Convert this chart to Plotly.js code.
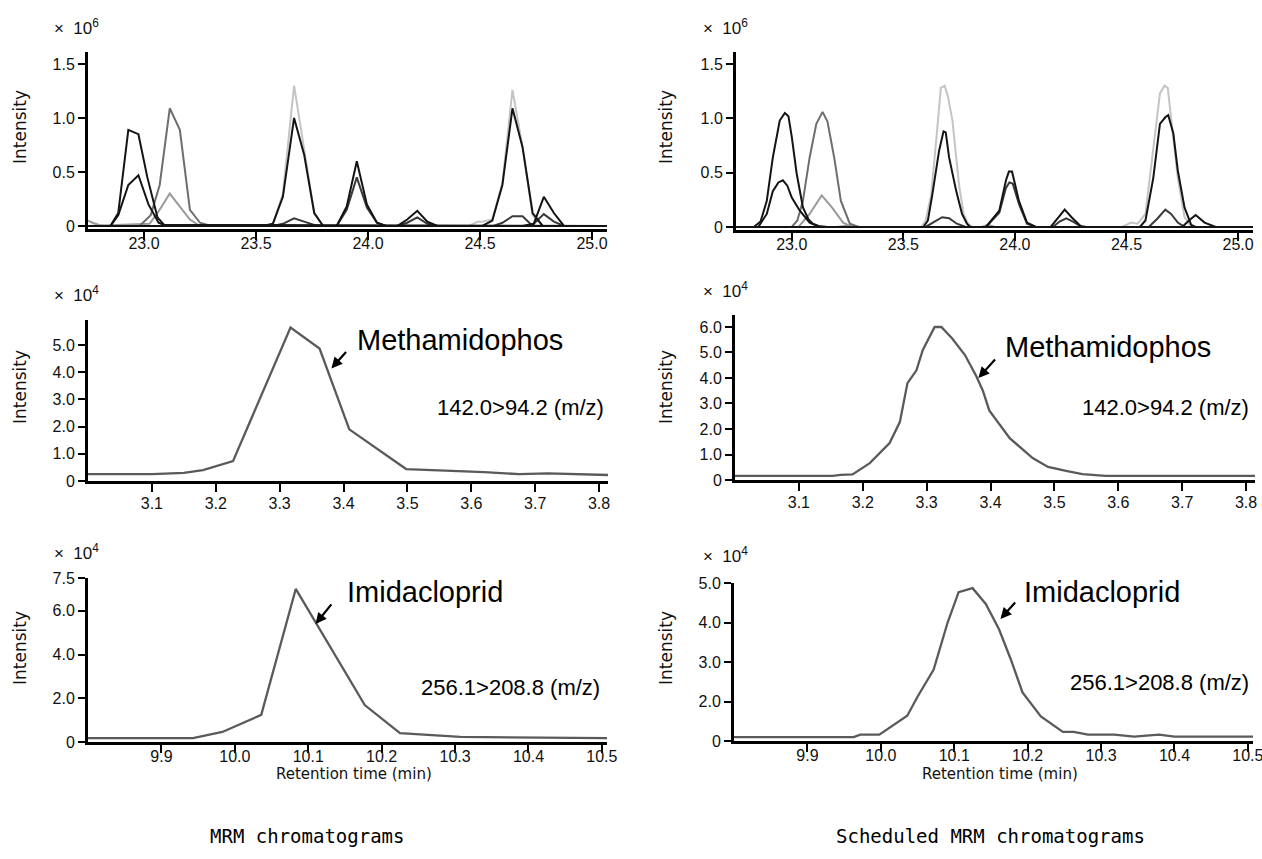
<!DOCTYPE html>
<html><head><meta charset="utf-8">
<script src="https://cdn.plot.ly/plotly-3.0.1.min.js"></script>
<style>html,body{margin:0;padding:0;background:#fff}#chart{width:1262px;height:859px}</style>
</head><body><div id="chart"></div>
<script>
// ---------------- DATA ----------------
// Top-left: MRM chromatograms (x: min, y: x10^6)
const mrmBase_x = [22.75, 22.77, 22.80, 22.83, 25.07];
const mrmBase_y = [0.05, 0.03, 0.01, 0.0, 0.0];
const mrmA1_x = [22.75, 22.85, 22.885, 22.93, 22.975, 23.015, 23.06, 23.09, 25.07];
const mrmA1_y = [0.0, 0.0, 0.12, 0.89, 0.85, 0.45, 0.08, 0.01, 0.0];
const mrmA2_x = [22.75, 22.85, 22.885, 22.93, 22.975, 23.02, 23.065, 23.10, 25.07];
const mrmA2_y = [0.0, 0.0, 0.10, 0.38, 0.47, 0.20, 0.03, 0.0, 0.0];
const mrmB1_x = [22.75, 22.98, 23.03, 23.07, 23.115, 23.16, 23.205, 23.25, 23.30, 25.07];
const mrmB1_y = [0.0, 0.0, 0.10, 0.38, 1.09, 0.89, 0.15, 0.03, 0.0, 0.0];
const mrmB2_x = [22.75, 23.025, 23.07, 23.115, 23.16, 23.205, 23.25, 25.07];
const mrmB2_y = [0.0, 0.02, 0.15, 0.30, 0.18, 0.06, 0.0, 0.0];
const mrmC1_x = [22.75, 23.53, 23.575, 23.62, 23.67, 23.715, 23.76, 23.80, 25.07];
const mrmC1_y = [0.0, 0.0, 0.01, 0.30, 1.30, 0.70, 0.12, 0.0, 0.0];
const mrmC2_x = [22.75, 23.53, 23.575, 23.62, 23.67, 23.715, 23.76, 23.80, 25.07];
const mrmC2_y = [0.0, 0.0, 0.02, 0.27, 1.00, 0.66, 0.12, 0.0, 0.0];
const mrmC3_x = [22.75, 23.575, 23.62, 23.67, 23.715, 23.76, 23.80, 25.07];
const mrmC3_y = [0.0, 0.0, 0.02, 0.07, 0.04, 0.01, 0.0, 0.0];
const mrmD1_x = [22.75, 23.86, 23.905, 23.95, 23.995, 24.04, 24.08, 25.07];
const mrmD1_y = [0.0, 0.0, 0.18, 0.60, 0.20, 0.03, 0.0, 0.0];
const mrmD2_x = [22.75, 23.86, 23.905, 23.95, 23.995, 24.04, 24.08, 25.07];
const mrmD2_y = [0.0, 0.0, 0.15, 0.45, 0.17, 0.03, 0.0, 0.0];
const mrmE1_x = [22.75, 24.13, 24.175, 24.22, 24.265, 24.31, 25.07];
const mrmE1_y = [0.0, 0.0, 0.06, 0.14, 0.04, 0.0, 0.0];
const mrmE2_x = [22.75, 24.13, 24.175, 24.22, 24.265, 24.31, 25.07];
const mrmE2_y = [0.0, 0.0, 0.03, 0.08, 0.02, 0.0, 0.0];
const mrmF1_x = [22.75, 24.45, 24.49, 24.51, 24.555, 24.60, 24.645, 24.69, 24.735, 24.78, 25.07];
const mrmF1_y = [0.0, 0.0, 0.04, 0.04, 0.06, 0.40, 1.26, 0.73, 0.10, 0.0, 0.0];
const mrmF2_x = [22.75, 24.51, 24.555, 24.60, 24.645, 24.69, 24.735, 24.78, 25.07];
const mrmF2_y = [0.0, 0.0, 0.05, 0.38, 1.09, 0.73, 0.12, 0.0, 0.0];
const mrmF3_x = [22.75, 24.56, 24.60, 24.645, 24.69, 24.735, 25.07];
const mrmF3_y = [0.0, 0.0, 0.03, 0.09, 0.09, 0.0, 0.0];
const mrmG1_x = [22.75, 24.69, 24.74, 24.785, 24.83, 24.875, 25.07];
const mrmG1_y = [0.0, 0.0, 0.02, 0.27, 0.12, 0.0, 0.0];
const mrmG2_x = [22.75, 24.70, 24.74, 24.785, 24.83, 24.875, 25.07];
const mrmG2_y = [0.0, 0.0, 0.02, 0.11, 0.04, 0.0, 0.0];

// Top-right: Scheduled MRM chromatograms (x: min, y: x10^6)
const sBase_x = [22.75, 23.20, 23.25, 23.30, 23.85, 23.88, 23.91, 25.07];
const sBase_y = [0.0, 0.0, 0.01, 0.0, 0.0, 0.02, 0.0, 0.0];
const sA1_x = [22.75, 22.83, 22.86, 22.888, 22.915, 22.946, 22.969, 22.985, 23.0, 23.022, 23.05, 23.075, 23.094, 23.12, 23.16, 25.07];
const sA1_y = [0.0, 0.0, 0.05, 0.24, 0.64, 0.98, 1.05, 1.02, 0.83, 0.49, 0.18, 0.07, 0.03, 0.01, 0.0, 0.0];
const sA2_x = [22.75, 22.85, 22.888, 22.915, 22.94, 22.96, 22.98, 23.0, 23.036, 23.08, 23.125, 25.07];
const sA2_y = [0.0, 0.0, 0.12, 0.33, 0.41, 0.43, 0.38, 0.27, 0.15, 0.04, 0.0, 0.0];
const sB1_x = [22.75, 23.0, 23.025, 23.05, 23.08, 23.11, 23.138, 23.16, 23.19, 23.22, 23.26, 23.30, 25.07];
const sB1_y = [0.0, 0.0, 0.06, 0.24, 0.64, 0.95, 1.06, 0.97, 0.64, 0.24, 0.03, 0.0, 0.0];
const sB2_x = [22.75, 23.03, 23.08, 23.134, 23.18, 23.23, 23.27, 25.07];
const sB2_y = [0.0, 0.0, 0.12, 0.29, 0.18, 0.04, 0.0, 0.0];
const sC1_x = [22.75, 23.58, 23.60, 23.625, 23.65, 23.668, 23.685, 23.70, 23.72, 23.735, 23.75, 23.77, 23.79, 23.81, 25.07];
const sC1_y = [0.0, 0.0, 0.06, 0.30, 0.86, 1.28, 1.30, 1.20, 0.98, 0.70, 0.38, 0.12, 0.03, 0.0, 0.0];
const sC2_x = [22.75, 23.59, 23.61, 23.63, 23.66, 23.68, 23.69, 23.705, 23.737, 23.763, 23.785, 23.80, 25.07];
const sC2_y = [0.0, 0.0, 0.06, 0.30, 0.70, 0.88, 0.87, 0.64, 0.33, 0.12, 0.03, 0.0, 0.0];
const sC3_x = [22.75, 23.60, 23.64, 23.674, 23.705, 23.74, 23.78, 25.07];
const sC3_y = [0.0, 0.0, 0.05, 0.09, 0.08, 0.03, 0.0, 0.0];
const sD1_x = [22.75, 23.87, 23.93, 23.96, 23.973, 23.987, 24.018, 24.054, 24.094, 25.07];
const sD1_y = [0.0, 0.0, 0.15, 0.43, 0.51, 0.51, 0.24, 0.04, 0.0, 0.0];
const sD2_x = [22.75, 23.87, 23.93, 23.96, 23.975, 23.99, 24.02, 24.054, 24.094, 25.07];
const sD2_y = [0.0, 0.0, 0.13, 0.36, 0.41, 0.40, 0.20, 0.03, 0.0, 0.0];
const sE1_x = [22.75, 24.16, 24.196, 24.223, 24.254, 24.294, 24.32, 25.07];
const sE1_y = [0.0, 0.0, 0.09, 0.16, 0.09, 0.01, 0.0, 0.0];
const sE2_x = [22.75, 24.17, 24.20, 24.23, 24.26, 24.30, 25.07];
const sE2_y = [0.0, 0.0, 0.05, 0.08, 0.05, 0.0, 0.0];
const sF1_x = [22.75, 24.48, 24.52, 24.55, 24.585, 24.61, 24.635, 24.65, 24.67, 24.685, 24.70, 24.73, 24.76, 24.79, 25.07];
const sF1_y = [0.0, 0.0, 0.04, 0.03, 0.12, 0.55, 1.00, 1.23, 1.30, 1.28, 1.00, 0.45, 0.09, 0.0, 0.0];
const sF2_x = [22.75, 24.56, 24.585, 24.62, 24.65, 24.674, 24.687, 24.71, 24.73, 24.76, 24.79, 24.81, 25.07];
const sF2_y = [0.0, 0.0, 0.06, 0.45, 0.95, 1.01, 1.03, 0.86, 0.52, 0.18, 0.02, 0.0, 0.0];
const sF3_x = [22.75, 24.60, 24.64, 24.674, 24.70, 24.73, 24.76, 25.07];
const sF3_y = [0.0, 0.0, 0.08, 0.16, 0.12, 0.04, 0.0, 0.0];
const sG1_x = [22.75, 24.75, 24.78, 24.81, 24.85, 24.90, 25.07];
const sG1_y = [0.0, 0.0, 0.06, 0.11, 0.04, 0.0, 0.0];

// Middle: Methamidophos 142.0>94.2 (x: min, y: x10^4)
const methMRM_x = [3.0, 3.10, 3.15, 3.18, 3.227, 3.317, 3.3625, 3.409, 3.498, 3.55, 3.62, 3.675, 3.72, 3.814];
const methMRM_y = [0.25, 0.25, 0.30, 0.40, 0.73, 5.64, 4.87, 1.90, 0.44, 0.40, 0.33, 0.25, 0.28, 0.22];
const methSch_x = [3.0, 3.153, 3.165, 3.184, 3.211, 3.242, 3.258, 3.27, 3.284, 3.294, 3.3125, 3.323, 3.34, 3.36, 3.378, 3.388, 3.398, 3.43, 3.466, 3.49, 3.52, 3.544, 3.58, 3.814];
const methSch_y = [0.16, 0.16, 0.20, 0.22, 0.66, 1.45, 2.27, 3.80, 4.30, 5.10, 6.00, 6.00, 5.55, 4.90, 4.06, 3.50, 2.73, 1.64, 0.86, 0.51, 0.35, 0.23, 0.16, 0.16];

// Bottom: Imidacloprid 256.1>208.8 (x: min, y: x10^4)
const imiMRM_x = [9.80, 9.943, 9.983, 10.036, 10.083, 10.177, 10.225, 10.307, 10.507];
const imiMRM_y = [0.18, 0.18, 0.46, 1.24, 7.00, 1.69, 0.41, 0.23, 0.18];
const imiSch_x = [9.80, 9.963, 9.972, 9.998, 10.036, 10.05, 10.072, 10.091, 10.106, 10.125, 10.143, 10.161, 10.177, 10.193, 10.218, 10.248, 10.263, 10.282, 10.318, 10.345, 10.379, 10.40, 10.507];
const imiSch_y = [1.10, 1.10, 1.16, 1.16, 1.64, 2.12, 2.81, 4.00, 4.77, 4.87, 4.47, 3.83, 3.07, 2.23, 1.62, 1.23, 1.23, 1.16, 1.16, 1.11, 1.16, 1.11, 1.11];

// Tick labels
const tickTopX = [23.0, 23.5, 24.0, 24.5, 25.0];
const tickTopY = [0, 0.5, 1.0, 1.5];
const tickTopYText = ['0', '0.5', '1.0', '1.5'];
const tickMidX = [3.1, 3.2, 3.3, 3.4, 3.5, 3.6, 3.7, 3.8];
const tickMidLY = [0, 1, 2, 3, 4, 5];
const tickMidLYText = ['0', '1.0', '2.0', '3.0', '4.0', '5.0'];
const tickMidRY = [0, 1, 2, 3, 4, 5, 6];
const tickMidRYText = ['0', '1.0', '2.0', '3.0', '4.0', '5.0', '6.0'];
const tickBotX = [9.9, 10.0, 10.1, 10.2, 10.3, 10.4, 10.5];
const tickBotLY = [0, 2, 4, 6, 7.5];
const tickBotLYText = ['0', '2.0', '4.0', '6.0', '7.5'];
const tickBotRY = [1, 2, 3, 4, 5];
const tickBotRYText = ['0', '2.0', '3.0', '4.0', '5.0'];

// ---------------- LAYOUT ----------------
const W = 1262, H = 859;
const dX = (a, b) => [a / W, b / W];
const dY = (top, bot) => [1 - bot / H, 1 - top / H];
const px = v => v / W, py = v => 1 - v / H;

const BLACK = '#141414', DARK = '#3a3a3a', MID = '#6e6e6e', LIGHT = '#9a9a9a', PALE = '#c4c4c4';
const tfont = {family: 'Liberation Sans, Arial, sans-serif', size: 16, color: '#111'};

function xa(domain, anchor, range, tv, standoff) {
  return {domain, anchor, range, tickvals: tv, ticktext: tv.map(v => v.toFixed(1)),
    showline: true, linecolor: '#000', linewidth: 3, ticks: 'outside', ticklen: 8, tickwidth: 2,
    tickcolor: '#000', showgrid: false, zeroline: false, tickfont: tfont, fixedrange: true,
    ticklabeloverflow: 'allow', ticklabelstandoff: standoff};
}
function ya(domain, anchor, range, tv, tt) {
  return {domain, anchor, range, tickvals: tv, ticktext: tt,
    showline: true, linecolor: '#000', linewidth: 3, ticks: 'outside', ticklen: 7, tickwidth: 2,
    tickcolor: '#000', showgrid: false, zeroline: false, tickfont: tfont, fixedrange: true,
    ticklabeloverflow: 'allow'};
}

const traces = [];
function add(x, y, color, width, xaN, yaN) {
  traces.push({x, y, type: 'scatter', mode: 'lines', line: {color, width, shape: 'linear'},
    xaxis: xaN, yaxis: yaN, hoverinfo: 'skip', showlegend: false});
}
// top-left
add(mrmBase_x, mrmBase_y, LIGHT, 2, 'x', 'y');
add(mrmC1_x, mrmC1_y, PALE, 2, 'x', 'y');
add(mrmF1_x, mrmF1_y, PALE, 2, 'x', 'y');
add(mrmB2_x, mrmB2_y, LIGHT, 2, 'x', 'y');
add(mrmB1_x, mrmB1_y, MID, 2, 'x', 'y');
add(mrmC3_x, mrmC3_y, DARK, 2, 'x', 'y');
add(mrmE2_x, mrmE2_y, DARK, 2, 'x', 'y');
add(mrmF3_x, mrmF3_y, DARK, 2, 'x', 'y');
add(mrmG2_x, mrmG2_y, DARK, 2, 'x', 'y');
add(mrmD2_x, mrmD2_y, DARK, 2, 'x', 'y');
add(mrmA2_x, mrmA2_y, BLACK, 2, 'x', 'y');
add(mrmA1_x, mrmA1_y, BLACK, 2, 'x', 'y');
add(mrmC2_x, mrmC2_y, BLACK, 2, 'x', 'y');
add(mrmD1_x, mrmD1_y, BLACK, 2, 'x', 'y');
add(mrmE1_x, mrmE1_y, BLACK, 2, 'x', 'y');
add(mrmF2_x, mrmF2_y, BLACK, 2, 'x', 'y');
add(mrmG1_x, mrmG1_y, BLACK, 2, 'x', 'y');
// top-right
add(sBase_x, sBase_y, LIGHT, 2, 'x2', 'y2');
add(sC1_x, sC1_y, PALE, 2, 'x2', 'y2');
add(sF1_x, sF1_y, PALE, 2, 'x2', 'y2');
add(sB2_x, sB2_y, LIGHT, 2, 'x2', 'y2');
add(sB1_x, sB1_y, MID, 2, 'x2', 'y2');
add(sC3_x, sC3_y, DARK, 2, 'x2', 'y2');
add(sE2_x, sE2_y, DARK, 2, 'x2', 'y2');
add(sF3_x, sF3_y, DARK, 2, 'x2', 'y2');
add(sD2_x, sD2_y, DARK, 2, 'x2', 'y2');
add(sA2_x, sA2_y, BLACK, 2, 'x2', 'y2');
add(sA1_x, sA1_y, BLACK, 2, 'x2', 'y2');
add(sC2_x, sC2_y, BLACK, 2, 'x2', 'y2');
add(sD1_x, sD1_y, BLACK, 2, 'x2', 'y2');
add(sE1_x, sE1_y, BLACK, 2, 'x2', 'y2');
add(sF2_x, sF2_y, BLACK, 2, 'x2', 'y2');
add(sG1_x, sG1_y, BLACK, 2, 'x2', 'y2');
// middle, bottom
add(methMRM_x, methMRM_y, '#5a5a5a', 2.3, 'x3', 'y3');
add(methSch_x, methSch_y, '#5a5a5a', 2.3, 'x4', 'y4');
add(imiMRM_x, imiMRM_y, '#5a5a5a', 2.3, 'x5', 'y5');
add(imiSch_x, imiSch_y, '#5a5a5a', 2.3, 'x6', 'y6');

const afont = {family: 'Liberation Sans, Arial, sans-serif', size: 29, color: '#000'};
const mfont = {family: 'Liberation Sans, Arial, sans-serif', size: 22, color: '#000'};
const lfont = {family: 'DejaVu Sans, sans-serif', size: 17, color: '#111'};
const sfont = {family: 'Liberation Sans, Arial, sans-serif', size: 17, color: '#111'};
const rfont = {family: 'DejaVu Sans, sans-serif', size: 15, color: '#111'};
const bfont = {family: 'DejaVu Sans Mono, monospace', size: 19, color: '#000'};

function txt(x, y, text, font, xanchor, extra) {
  return Object.assign({xref: 'paper', yref: 'paper', x: px(x), y: py(y), text, font,
    xanchor: xanchor || 'center', yanchor: 'middle', showarrow: false}, extra || {});
}
function arrow(xaN, yaN, x, y, ax, ay) {
  return {xref: xaN, yref: yaN, x, y, ax, ay, axref: 'pixel', ayref: 'pixel', text: '',
    showarrow: true, arrowhead: 2, arrowsize: 1, arrowwidth: 2.2, arrowcolor: '#000'};
}

const annotations = [
  txt(52, 27, '×\u00a0\u00a010<sup>6</sup>', sfont, 'left'),
  txt(701, 27, '×\u00a0\u00a010<sup>6</sup>', sfont, 'left'),
  txt(52, 294, '×\u00a0\u00a010<sup>4</sup>', sfont, 'left'),
  txt(701, 290, '×\u00a0\u00a010<sup>4</sup>', sfont, 'left'),
  txt(52, 552, '×\u00a0\u00a010<sup>4</sup>', sfont, 'left'),
  txt(701, 555, '×\u00a0\u00a010<sup>4</sup>', sfont, 'left'),
  txt(20, 127, 'Intensity', lfont, 'center', {textangle: -90}),
  txt(666, 127, 'Intensity', lfont, 'center', {textangle: -90}),
  txt(20, 387, 'Intensity', lfont, 'center', {textangle: -90}),
  txt(666, 387, 'Intensity', lfont, 'center', {textangle: -90}),
  txt(20, 648, 'Intensity', lfont, 'center', {textangle: -90}),
  txt(666, 648, 'Intensity', lfont, 'center', {textangle: -90}),
  txt(355, 340, 'Methamidophos', afont, 'left'),
  txt(1003, 347, 'Methamidophos', afont, 'left'),
  txt(435, 407, '142.0>94.2 (m/z)', mfont, 'left'),
  txt(1080, 407, '142.0>94.2 (m/z)', mfont, 'left'),
  txt(345, 592, 'Imidacloprid', afont, 'left'),
  txt(1022, 592, 'Imidacloprid', afont, 'left'),
  txt(419, 687, '256.1>208.8 (m/z)', mfont, 'left'),
  txt(1068, 682, '256.1>208.8 (m/z)', mfont, 'left'),
  txt(354, 774, 'Retention time (min)', rfont, 'center'),
  txt(1000, 774, 'Retention time (min)', rfont, 'center'),
  txt(307, 836, 'MRM chromatograms', bfont, 'center'),
  txt(990, 836, 'Scheduled MRM chromatograms', bfont, 'center'),
  arrow('x3', 'y3', 3.381, 4.14, 16, -18),
  arrow('x4', 'y4', 3.381, 4.0, 18, -20),
  arrow('x5', 'y5', 10.11, 5.4, 17, -21),
  arrow('x6', 'y6', 10.163, 4.09, 16, -18)
];

const layout = {
  width: W, height: H, margin: {l: 0, r: 0, t: 0, b: 0},
  paper_bgcolor: '#fff', plot_bgcolor: '#fff', showlegend: false,
  xaxis: xa(dX(88, 607), 'y', [22.75, 25.067], tickTopX, -10),
  yaxis: ya(dY(52, 229), 'x', [-0.028, 1.611], tickTopY, tickTopYText),
  xaxis2: xa(dX(736, 1253), 'y2', [22.75, 25.067], tickTopX, -10),
  yaxis2: ya(dY(52, 230), 'x2', [-0.028, 1.611], tickTopY, tickTopYText),
  xaxis3: xa(dX(88, 608), 'y3', [3.0, 3.814], tickMidX, -2),
  yaxis3: ya(dY(320, 481), 'x3', [0, 5.92], tickMidLY, tickMidLYText),
  xaxis4: xa(dX(735, 1255), 'y4', [3.0, 3.814], tickMidX, -2),
  yaxis4: ya(dY(315, 480), 'x4', [0, 6.47], tickMidRY, tickMidRYText),
  xaxis5: xa(dX(88, 607), 'y5', [9.80, 10.507], tickBotX, -10),
  yaxis5: ya(dY(578, 742), 'x5', [0, 7.5], tickBotLY, tickBotLYText),
  xaxis6: xa(dX(734, 1253), 'y6', [9.80, 10.507], tickBotX, -10),
  yaxis6: ya(dY(583, 741), 'x6', [1, 5], tickBotRY, tickBotRYText),
  annotations
};

Plotly.newPlot('chart', traces, layout, {displayModeBar: false, staticPlot: true});
</script></body></html>
